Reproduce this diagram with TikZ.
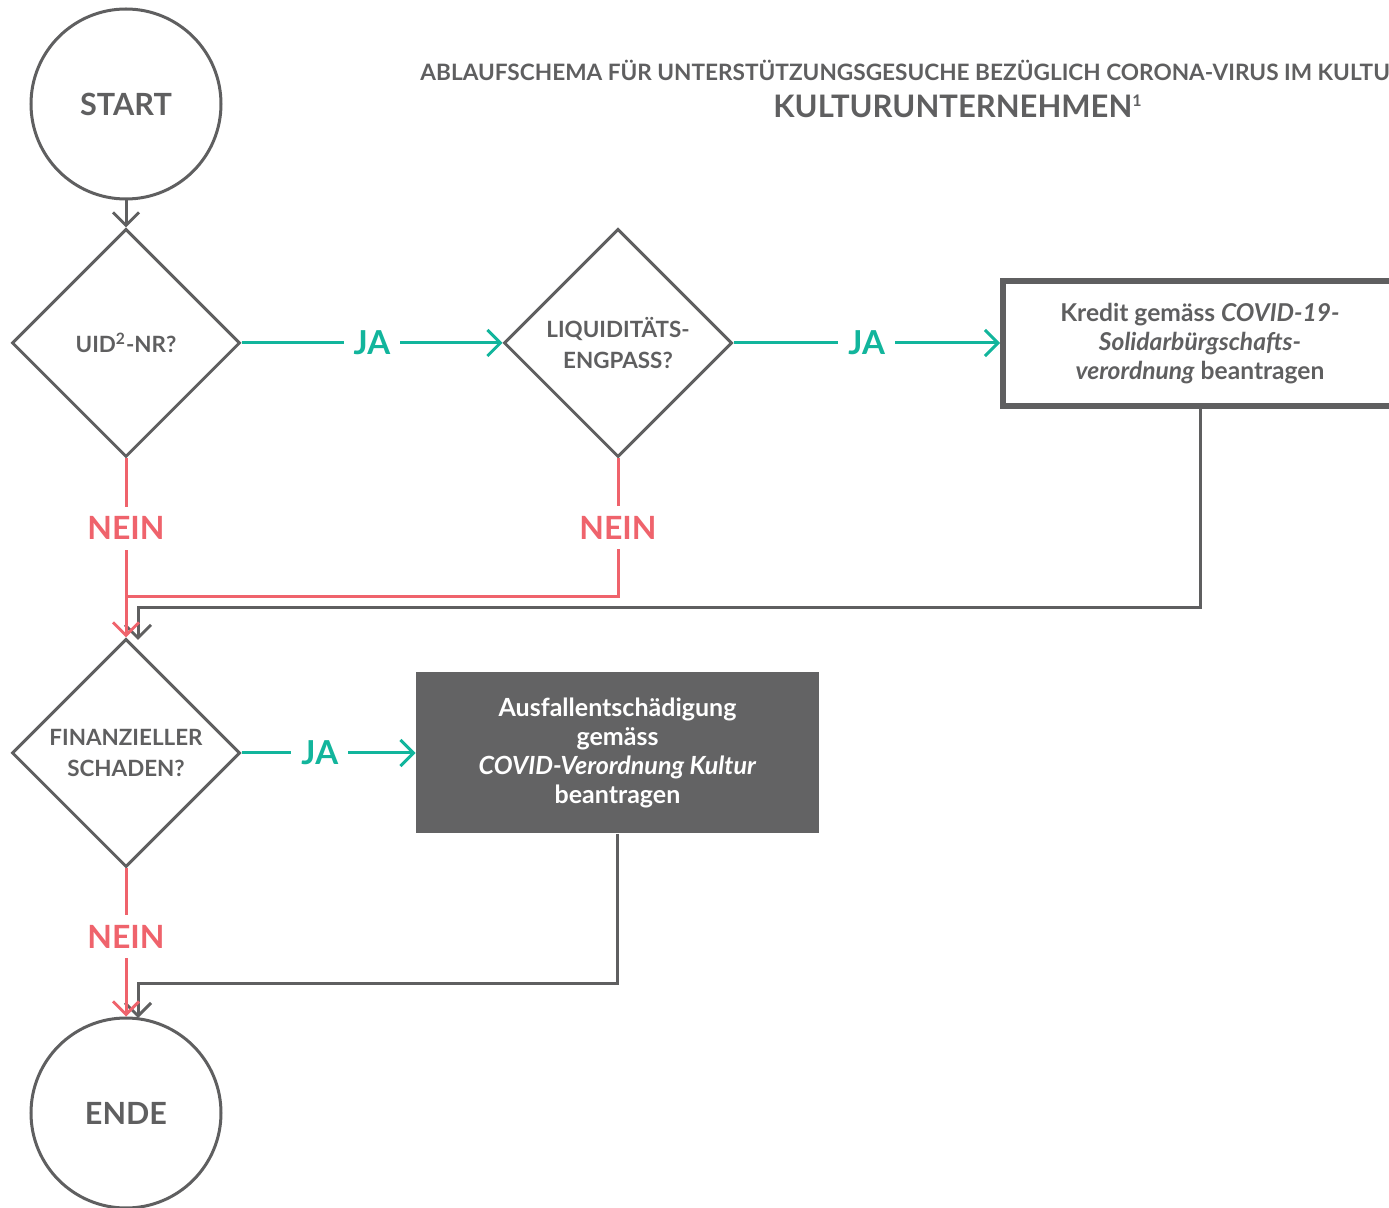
\documentclass[tikz,border=0pt]{standalone}
\usepackage{fontspec}
\setmainfont{Lato}
\usetikzlibrary{shapes.geometric,arrows.meta,calc}
\definecolor{dgray}{HTML}{5F5F60}
\definecolor{boxgray}{HTML}{636364}
\definecolor{jagreen}{HTML}{12B59C}
\definecolor{neinred}{HTML}{EF636C}
\tikzset{
  term/.style={circle,draw=dgray,line width=1.5pt,minimum size=95pt,inner sep=0pt,text=dgray,font=\bfseries\fontsize{15.3}{18}\selectfont},
  decision/.style={diamond,aspect=1,draw=dgray,line width=1.5pt,minimum width=114pt,minimum height=114pt,inner sep=0pt,text=dgray,align=center,font=\bfseries\fontsize{11.2}{15.5}\selectfont},
  kreditbox/.style={rectangle,draw=dgray,line width=3pt,minimum width=197pt,minimum height=62.5pt,inner sep=0pt,text=dgray,align=center,font=\bfseries\fontsize{12.3}{14.5}\selectfont},
  darkbox/.style={rectangle,fill=boxgray,minimum width=201.5pt,minimum height=80.5pt,inner sep=0pt,text=white,align=center,font=\bfseries\fontsize{12.5}{14.6}\selectfont},
  tipv/.style={-{Straight Barb[length=6.5pt,width=13pt,line width=1.5pt]}},
  flowgray/.style={draw=dgray,line width=1.5pt},
  flowgreen/.style={draw=jagreen,line width=1.5pt},
  flowred/.style={draw=neinred,line width=1.5pt},
  jalabel/.style={fill=white,text=jagreen,inner sep=5pt,font=\bfseries\fontsize{16.5}{18}\selectfont},
  neinlabel/.style={fill=white,text=neinred,inner sep=5pt,font=\bfseries\fontsize{16}{18}\selectfont},
  titlestyle/.style={text=dgray,inner sep=0pt}
}
\begin{document}
\begin{tikzpicture}[x=0.5pt,y=-0.5pt]
\useasboundingbox (0,0) rectangle (1389,1208);
\clip (0,0) rectangle (1389,1208);
% title
\node[titlestyle,anchor=west,font=\bfseries\fontsize{11.3}{12}\selectfont] (title1) at (420,70) {ABLAUFSCHEMA FÜR UNTERSTÜTZUNGSGESUCHE BEZÜGLICH CORONA-VIRUS IM KULTU};
\node[titlestyle,font=\bfseries\fontsize{15.5}{18}\selectfont] (title2) at (958,106) {KULTURUNTERNEHMEN\textsuperscript{\footnotesize 1}};
% nodes
\node[term] (start) at (126,104) {START};
\node[decision] (d1) at (126,343) {UID\textsuperscript{2}-NR?};
\node[decision] (d2) at (618,343) {LIQUIDITÄTS-\\ENGPASS?};
\node[kreditbox] (kredit) at (1200,344) {Kredit gemäss \textit{COVID-19-}\\\textit{Solidarbürgschafts-}\\\textit{verordnung} beantragen};
\node[decision] (d3) at (126,753) {FINANZIELLER\\SCHADEN?};
\node[darkbox] (ausfall) at (617.5,753) {Ausfallentschädigung\\gemäss\\\textit{COVID-Verordnung Kultur}\\beantragen};
\node[term] (ende) at (126,1113) {ENDE};
\coordinate (j1) at (126,597);
\coordinate (k1) at (138,608);
\coordinate (k2) at (138,640);
\coordinate (a1) at (138,983);
\coordinate (a2) at (138,1018);
% connectors
\draw[flowgray,tipv] (start.south) -- (d1.north);
\draw[flowgreen,tipv] (d1.east) -- node[jalabel] (ja1) {JA} (d2.west);
\draw[flowgreen,tipv] (d2.east) -- node[jalabel] (ja2) {JA} (d2.east -| kredit.west);
\draw[flowgray,tipv] (kredit.south) |- (k1) -- (k2);
\draw[flowred] (d2.south) |- node[neinlabel,pos=0.25] (nein2) {NEIN} (j1);
\draw[flowred,tipv] (d1.south) -- node[neinlabel,pos=0.39] (nein1) {NEIN} (d3.north);
\draw[flowgreen,tipv] (d3.east) -- node[jalabel,pos=0.45] (ja3) {JA} (d3.east -| ausfall.west);
\draw[flowgray,tipv] (ausfall.south) |- (a1) -- (a2);
\draw[flowred,tipv] (d3.south) -- node[neinlabel,pos=0.46] (nein3) {NEIN} (ende.north);
\end{tikzpicture}
\end{document}
